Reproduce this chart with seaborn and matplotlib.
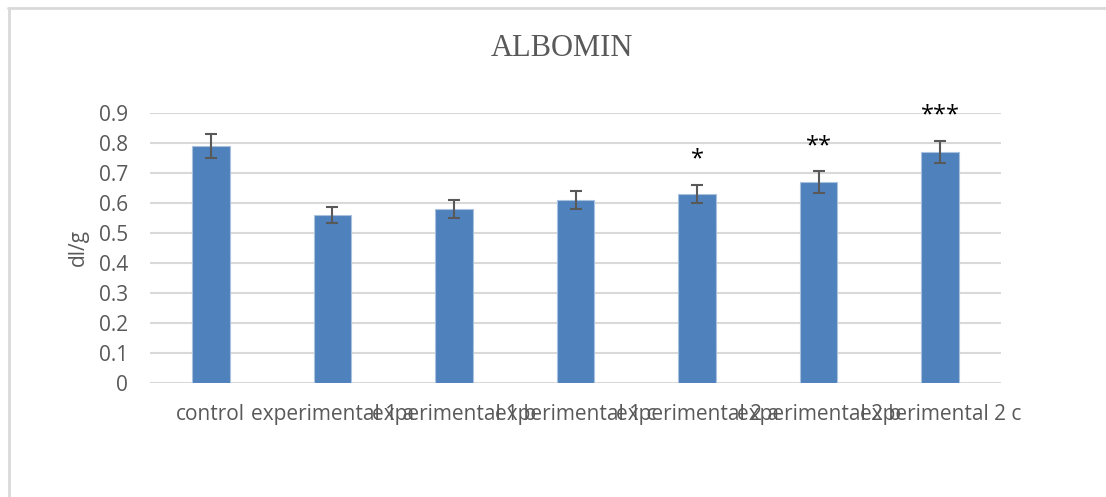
import matplotlib
matplotlib.use("Agg")
import matplotlib.pyplot as plt
from matplotlib.lines import Line2D
import seaborn as sns
import pandas as pd
import numpy as np

# Albumin level per group, with standard error and significance marks
groups = ["control", "experimental 1 a", "experimental 1 b", "experimental 1 c",
          "experimental 2 a", "experimental 2 b", "experimental 2 c"]
albumin = [0.79, 0.56, 0.58, 0.61, 0.63, 0.67, 0.77]
std_err = [0.04, 0.028, 0.03, 0.03, 0.03, 0.035, 0.038]
signif = ["", "", "", "", "*", "**", "***"]
y_ticks = [0, 0.1, 0.2, 0.3, 0.4, 0.5, 0.6, 0.7, 0.8, 0.9]

df = pd.DataFrame({"group": groups, "albumin": albumin, "err": std_err})

sns.set_theme(style="white")
plt.rcParams["font.family"] = ["Open Sans", "DejaVu Sans"]

grey_text = "#595959"
grid_col = "#d9d9d9"
bar_col = "#4f81bd"

fig = plt.figure(figsize=(11.06, 4.97), dpi=100)
ax = fig.add_axes([150 / 1106, 1 - 383 / 497, 851 / 1106, 270 / 497])

sns.barplot(data=df, x="group", y="albumin", color=bar_col, width=0.31,
            errorbar=None, saturation=1, edgecolor="#a9c1df", linewidth=0.8,
            ax=ax, zorder=3)

xpos = np.arange(len(groups))
ax.errorbar(xpos, albumin, yerr=std_err, fmt="none", ecolor=grey_text,
            elinewidth=1.5, capsize=4.3, capthick=1.5, zorder=4)

for x, m, e, s in zip(xpos, albumin, std_err, signif):
    if s:
        ax.text(x, m + e + 0.085, s, ha="center", va="center",
                fontsize=17, color="black", zorder=5)

ax.set_ylim(0, 0.9)
ax.set_xlim(-0.5, len(groups) - 0.5)
ax.set_yticks(y_ticks)
ax.set_yticklabels([f"{v:g}" for v in y_ticks])
ax.yaxis.grid(True, color=grid_col, linewidth=1.5, zorder=0)
ax.set_axisbelow(True)
for sp in ax.spines.values():
    sp.set_visible(False)
ax.tick_params(axis="y", length=0, pad=16, labelsize=15, labelcolor=grey_text)
ax.tick_params(axis="x", length=0, pad=15, labelsize=15, labelcolor=grey_text)
ax.set_xlabel("")
ax.set_ylabel("dl/g", fontsize=15, color=grey_text, labelpad=7)

fig.text(562 / 1106, 1 - 48 / 497, "ALBOMIN", ha="center", va="center",
         fontsize=22, color=grey_text, family="Liberation Serif")

# chart-area frame: top and left edges
fig.add_artist(Line2D([8 / 1106, 1.0], [1 - 7.5 / 497] * 2, transform=fig.transFigure,
                      color=grid_col, linewidth=2))
fig.add_artist(Line2D([8.5 / 1106] * 2, [0.0, 1 - 7.5 / 497], transform=fig.transFigure,
                      color=grid_col, linewidth=2))

fig.savefig("out.png", dpi=100, facecolor="white")
